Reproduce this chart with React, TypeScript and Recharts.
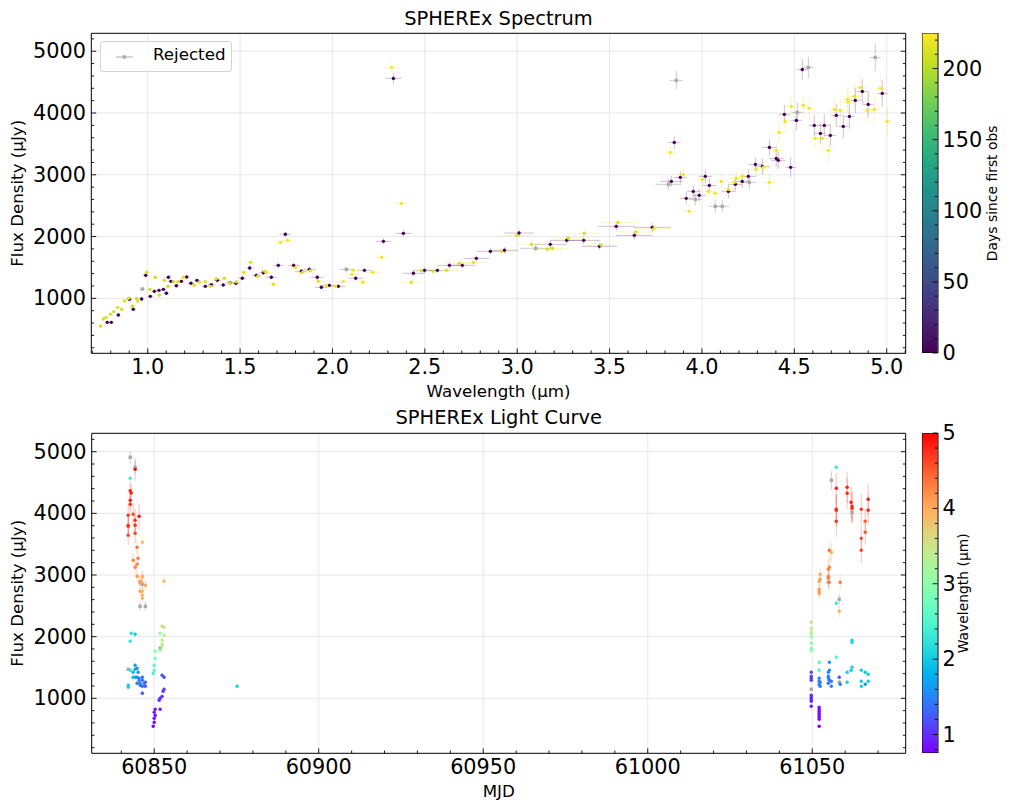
import React from 'react';
import { ComposedChart, Scatter, Bar, XAxis, YAxis, CartesianGrid, ErrorBar, Legend } from 'recharts';

const FONT = 'DejaVu Sans, Verdana, sans-serif';

// ---------- Spectrum data: [wavelength µm, flux µJy, x half-width µm, flux error µJy] ----------
const specEpoch1Days = 0;
const specEpoch1 = [
  [0.781, 611, 0.012, 25], [0.803, 611, 0.012, 25], [0.841, 730, 0.012, 25], [0.901, 984, 0.013, 30],
  [0.922, 822, 0.013, 30], [0.967, 989, 0.013, 30], [0.989, 1372, 0.014, 40], [1.014, 1032, 0.014, 30],
  [1.036, 1113, 0.015, 30], [1.061, 1129, 0.015, 30], [1.085, 1145, 0.016, 30], [1.101, 1081, 0.016, 30],
  [1.112, 1340, 0.016, 35], [1.126, 1275, 0.016, 30], [1.155, 1204, 0.017, 30], [1.182, 1275, 0.017, 30],
  [1.211, 1345, 0.018, 30], [1.234, 1243, 0.018, 30], [1.267, 1291, 0.018, 30], [1.312, 1194, 0.019, 30],
  [1.344, 1221, 0.019, 30], [1.377, 1291, 0.02, 30], [1.409, 1215, 0.02, 30], [1.445, 1253, 0.021, 30],
  [1.478, 1243, 0.021, 30], [1.512, 1324, 0.022, 35], [1.552, 1490, 0.022, 40], [1.588, 1372, 0.023, 35],
  [1.626, 1414, 0.024, 35], [1.669, 1340, 0.03, 35], [1.707, 1534, 0.03, 40], [1.745, 2036, 0.032, 45],
  [1.79, 1534, 0.032, 40], [1.832, 1437, 0.033, 40], [1.875, 1469, 0.034, 40], [1.918, 1340, 0.035, 40],
  [1.94, 1178, 0.035, 35], [1.983, 1210, 0.036, 35], [2.032, 1194, 0.037, 35], [2.126, 1324, 0.04, 40],
  [2.173, 1453, 0.04, 40], [2.276, 1922, 0.042, 50], [2.33, 4560, 0.043, 90], [2.384, 2052, 0.044, 50],
  [2.438, 1405, 0.06, 45], [2.498, 1453, 0.06, 45], [2.568, 1453, 0.065, 45], [2.633, 1534, 0.065, 50],
  [2.703, 1534, 0.07, 50], [2.779, 1647, 0.07, 50], [2.855, 1760, 0.075, 50], [2.931, 1777, 0.075, 55],
  [3.01, 2057, 0.08, 60], [3.179, 1874, 0.085, 60], [3.268, 1938, 0.09, 60], [3.36, 1938, 0.09, 60],
  [3.445, 1841, 0.095, 60], [3.536, 2165, 0.1, 70], [3.634, 2019, 0.1, 70], [3.731, 2149, 0.1, 70],
  [3.834, 2893, 0.06, 90], [3.85, 3524, 0.035, 110], [3.883, 2958, 0.035, 100], [3.915, 2618, 0.035, 100],
  [3.953, 2731, 0.035, 100], [3.985, 2667, 0.036, 100], [4.018, 2974, 0.036, 110], [4.04, 2828, 0.037, 110],
  [4.143, 2731, 0.037, 110], [4.181, 2845, 0.038, 110], [4.218, 2893, 0.038, 110], [4.251, 2974, 0.039, 120],
  [4.289, 3168, 0.039, 120], [4.327, 3136, 0.04, 130], [4.365, 3443, 0.04, 130], [4.402, 3265, 0.04, 140],
  [4.413, 3233, 0.04, 140], [4.446, 3977, 0.03, 150], [4.48, 3120, 0.03, 160], [4.511, 3880, 0.03, 160],
  [4.543, 4705, 0.03, 170], [4.608, 3799, 0.03, 170], [4.641, 3670, 0.03, 170], [4.662, 3799, 0.03, 180],
  [4.695, 3637, 0.03, 180], [4.727, 3961, 0.03, 190], [4.765, 3783, 0.03, 190], [4.798, 3945, 0.03, 200],
  [4.83, 4204, 0.03, 200], [4.868, 4349, 0.03, 200], [4.9, 4139, 0.03, 210], [4.976, 4317, 0.03, 220],
];

// [wavelength, flux, x half-width, flux error, days since first obs]
const specEpoch2 = [
  [0.745, 552, 0.012, 25, 210], [0.76, 665, 0.012, 25, 210], [0.774, 692, 0.012, 25, 210], [0.798, 741, 0.012, 25, 210],
  [0.816, 784, 0.012, 25, 210], [0.837, 854, 0.012, 25, 210], [0.859, 822, 0.013, 25, 210], [0.875, 956, 0.013, 30, 210],
  [0.897, 1000, 0.013, 30, 208], [0.917, 871, 0.013, 30, 208], [0.94, 994, 0.014, 30, 208], [0.946, 956, 0.014, 30, 208],
  [0.994, 1420, 0.014, 40, 208], [1.012, 1145, 0.014, 30, 208], [1.041, 1340, 0.015, 35, 208], [1.063, 1049, 0.015, 30, 208],
  [1.09, 1291, 0.016, 30, 208], [1.11, 1194, 0.016, 30, 208], [1.139, 1269, 0.017, 30, 208], [1.164, 1269, 0.017, 30, 208],
  [1.193, 1340, 0.017, 30, 212], [1.252, 1210, 0.018, 30, 212], [1.279, 1259, 0.018, 30, 212], [1.312, 1269, 0.019, 30, 212],
  [1.341, 1194, 0.019, 30, 212], [1.371, 1317, 0.02, 30, 212], [1.415, 1324, 0.02, 30, 212], [1.444, 1248, 0.021, 30, 212],
  [1.48, 1269, 0.021, 30, 212], [1.519, 1420, 0.022, 35, 212], [1.557, 1582, 0.022, 40, 212], [1.595, 1356, 0.023, 35, 212],
  [1.633, 1437, 0.024, 35, 212], [1.642, 1420, 0.024, 35, 215], [1.68, 1227, 0.03, 35, 215], [1.718, 1906, 0.031, 45, 222],
  [1.758, 1938, 0.032, 45, 222], [1.799, 1501, 0.032, 40, 215], [1.837, 1420, 0.033, 40, 215], [1.88, 1447, 0.034, 40, 215],
  [1.924, 1275, 0.035, 40, 215], [1.967, 1204, 0.036, 35, 220], [2.016, 1194, 0.037, 35, 220], [2.059, 1275, 0.038, 35, 220],
  [2.106, 1388, 0.039, 40, 220], [2.113, 1453, 0.039, 40, 220], [2.164, 1259, 0.04, 40, 220], [2.218, 1420, 0.041, 40, 220],
  [2.267, 1663, 0.042, 45, 220], [2.321, 4738, 0.043, 90, 222], [2.373, 2537, 0.044, 60, 222], [2.427, 1259, 0.06, 45, 215],
  [2.482, 1447, 0.06, 45, 210], [2.546, 1437, 0.065, 45, 210], [2.617, 1453, 0.065, 45, 210], [2.686, 1566, 0.07, 50, 210],
  [2.763, 1582, 0.07, 50, 210], [2.914, 1760, 0.075, 55, 208], [2.997, 2019, 0.08, 60, 208], [3.078, 1874, 0.08, 60, 208],
  [3.163, 1793, 0.085, 60, 208], [3.19, 1809, 0.085, 60, 208], [3.277, 1971, 0.09, 60, 208], [3.363, 2052, 0.09, 60, 208],
  [3.454, 1858, 0.095, 60, 208], [3.547, 2230, 0.1, 70, 215], [3.644, 2073, 0.1, 70, 215], [3.74, 2127, 0.1, 70, 222],
  [3.829, 3362, 0.035, 110, 222], [3.899, 3006, 0.035, 100, 222], [3.931, 2408, 0.035, 100, 222], [4.002, 2925, 0.036, 110, 222],
  [4.034, 2731, 0.036, 110, 222], [4.072, 2699, 0.037, 110, 222], [4.105, 2893, 0.037, 110, 222], [4.143, 2764, 0.037, 110, 222],
  [4.175, 2877, 0.038, 110, 222], [4.186, 2942, 0.038, 110, 222], [4.218, 2974, 0.038, 110, 222], [4.294, 3087, 0.039, 120, 222],
  [4.332, 3120, 0.04, 130, 222], [4.365, 2877, 0.04, 130, 222], [4.402, 3395, 0.04, 140, 222], [4.418, 3686, 0.04, 150, 222],
  [4.451, 3864, 0.03, 150, 222], [4.483, 4107, 0.03, 160, 222], [4.549, 4123, 0.03, 170, 222], [4.581, 4074, 0.03, 170, 222],
  [4.613, 3589, 0.03, 170, 222], [4.651, 3589, 0.03, 180, 222], [4.684, 3395, 0.03, 180, 222], [4.716, 4058, 0.03, 190, 222],
  [4.749, 4042, 0.03, 190, 222], [4.787, 4220, 0.03, 200, 222], [4.792, 4176, 0.03, 200, 222], [4.825, 4268, 0.03, 200, 222],
  [4.857, 4414, 0.03, 210, 222], [4.895, 4042, 0.03, 210, 222], [4.933, 4058, 0.03, 220, 222], [4.965, 4398, 0.03, 220, 222],
  [5.003, 3864, 0.03, 230, 222],
];

// rejected spectral points: [wavelength, flux, x half-width, flux error]
const specRejected = [
  [0.971, 1150, 0.014, 30], [2.075, 1469, 0.038, 40], [3.1, 1809, 0.085, 60], [3.818, 2845, 0.07, 90],
  [3.861, 4527, 0.035, 150], [3.964, 2602, 0.036, 100], [4.072, 2489, 0.037, 100], [4.11, 2489, 0.037, 100],
  [4.256, 2877, 0.039, 120], [4.516, 4010, 0.03, 160], [4.576, 4738, 0.03, 170], [4.938, 4899, 0.03, 220],
];

// ---------- Light curve data: [MJD, flux µJy, flux error, wavelength µm] ----------
const lcEpoch1 = [
  [60844.2, 4714, 180, 4.95], [60842.7, 4568, 60, 2.32], [60842.7, 4367, 150, 4.85], [60843.0, 4330, 150, 4.87],
  [60842.7, 4212, 150, 4.83], [60842.7, 4147, 150, 4.8], [60842.1, 3968, 160, 4.7], [60842.1, 3806, 150, 4.72],
  [60842.1, 3790, 150, 4.74], [60842.1, 3644, 160, 4.66], [60843.6, 3984, 180, 4.6], [60844.2, 3887, 180, 4.78],
  [60844.2, 3806, 160, 4.76], [60844.2, 3676, 160, 4.65], [60845.4, 3952, 200, 4.9], [60846.4, 3530, 120, 3.88],
  [60844.8, 3449, 130, 4.4], [60843.6, 3238, 120, 4.3], [60845.1, 3271, 120, 4.33], [60844.8, 3174, 110, 4.28],
  [60844.2, 3125, 110, 4.27], [60844.8, 2979, 100, 4.18], [60846.4, 2979, 90, 4.0], [60846.4, 2963, 90, 3.98],
  [60845.7, 2898, 90, 4.15], [60845.7, 2866, 90, 4.12], [60847.3, 2833, 90, 4.05], [60845.7, 2736, 80, 4.08],
  [60846.4, 2736, 80, 3.95], [60846.4, 2671, 80, 3.93], [60846.4, 2622, 80, 3.92], [60853.0, 2898, 60, 3.9],
  [60843.0, 2054, 40, 2.2], [60844.2, 2038, 40, 2.0], [60842.7, 1925, 40, 2.28], [60852.4, 2168, 40, 3.55],
  [60853.0, 2152, 40, 3.6], [60851.8, 2054, 40, 3.0], [60853.0, 2022, 40, 3.45], [60852.4, 1941, 40, 3.3],
  [60852.4, 1876, 40, 3.4], [60852.4, 1843, 40, 3.35], [60851.8, 1779, 40, 3.1], [60850.3, 1762, 40, 2.9],
  [60850.3, 1649, 40, 2.8], [60850.0, 1535, 40, 2.6], [60850.0, 1454, 40, 2.55], [60849.7, 1406, 40, 2.45],
  [60842.7, 1454, 30, 2.2], [60844.2, 1535, 30, 1.65], [60843.6, 1422, 30, 1.85], [60844.2, 1470, 30, 1.7],
  [60844.8, 1487, 30, 1.6], [60845.1, 1422, 30, 1.55], [60843.6, 1341, 30, 1.9], [60844.2, 1341, 30, 1.8],
  [60844.8, 1341, 30, 1.5], [60845.4, 1325, 30, 1.45], [60844.8, 1243, 30, 1.4], [60845.7, 1243, 30, 1.35],
  [60846.4, 1341, 30, 1.42], [60846.4, 1292, 30, 1.38], [60847.0, 1243, 30, 1.3], [60847.3, 1260, 30, 1.32],
  [60846.0, 1211, 30, 1.28], [60847.3, 1195, 30, 1.25], [60846.4, 1195, 30, 1.35], [60845.7, 1211, 30, 1.5],
  [60845.4, 1292, 30, 1.48], [60846.4, 1081, 30, 1.25], [60842.1, 1211, 30, 2.0], [60842.1, 1178, 30, 2.05],
  [60852.4, 1373, 30, 1.2], [60853.0, 1341, 30, 1.18], [60852.7, 1114, 30, 1.05], [60853.0, 1146, 30, 1.08],
  [60852.4, 1032, 30, 1.0], [60851.8, 1000, 30, 0.98], [60851.5, 968, 30, 0.96], [60851.8, 822, 30, 0.92],
  [60850.3, 822, 25, 0.86], [60850.0, 773, 25, 0.83], [60850.3, 724, 25, 0.81], [60850.0, 676, 25, 0.8],
  [60850.0, 611, 25, 0.78], [60849.7, 546, 25, 0.76], [60875.2, 1195, 30, 2.05],
];

const lcEpoch2 = [
  [61057.3, 4747, 60, 2.32], [61057.3, 4406, 250, 4.86], [61057.3, 4066, 250, 4.75], [61057.3, 4050, 250, 4.78],
  [61057.3, 3871, 250, 4.7], [61060.6, 4422, 250, 4.85], [61060.6, 4325, 250, 4.82], [61061.8, 4179, 250, 4.8],
  [61062.1, 4114, 250, 4.78], [61062.1, 4082, 250, 4.76], [61064.9, 4066, 250, 4.72], [61067.0, 4228, 250, 4.9],
  [61067.0, 4050, 250, 4.8], [61066.1, 3871, 200, 4.5], [61066.1, 3693, 200, 4.55], [61064.9, 3595, 200, 4.62],
  [61064.9, 3401, 200, 4.65], [61055.2, 3401, 150, 4.4], [61055.8, 3368, 150, 4.0], [61055.2, 3125, 150, 4.3],
  [61054.9, 3093, 150, 4.32], [61054.9, 2979, 120, 4.28], [61054.9, 2946, 120, 4.3], [61055.2, 2882, 120, 4.25],
  [61058.5, 2882, 120, 4.35], [61052.4, 3011, 100, 4.0], [61052.4, 2930, 100, 4.05], [61052.1, 2898, 100, 4.1],
  [61052.1, 2768, 90, 4.1], [61052.1, 2736, 90, 4.08], [61052.1, 2703, 90, 4.12], [61057.3, 2541, 40, 2.3],
  [61058.2, 2411, 100, 3.95], [61049.7, 2233, 40, 3.5], [61049.7, 2135, 40, 3.45], [61049.7, 2071, 40, 3.35],
  [61049.7, 2038, 40, 3.3], [61049.7, 1989, 40, 3.1], [61049.7, 1892, 40, 3.0], [61049.7, 1811, 40, 2.95],
  [61049.7, 1779, 40, 2.9], [61062.1, 1941, 40, 2.1], [61062.1, 1908, 40, 2.08], [61057.3, 1665, 40, 2.5],
  [61052.1, 1584, 40, 2.5], [61052.1, 1454, 40, 2.45], [61055.2, 1584, 40, 1.6], [61055.2, 1454, 30, 1.55],
  [61054.9, 1422, 30, 1.5], [61060.6, 1422, 30, 2.05], [61061.8, 1454, 30, 2.0], [61062.1, 1503, 30, 2.1],
  [61064.9, 1454, 30, 2.0], [61066.1, 1422, 30, 1.95], [61067.0, 1389, 30, 2.05], [61060.6, 1260, 30, 2.05],
  [61064.9, 1276, 30, 2.0], [61064.9, 1195, 30, 1.98], [61066.1, 1227, 30, 1.6], [61067.0, 1276, 30, 2.0],
  [61054.9, 1357, 30, 1.5], [61054.9, 1325, 30, 1.45], [61055.2, 1292, 30, 1.42], [61054.9, 1243, 30, 1.4],
  [61055.8, 1276, 30, 1.4], [61055.8, 1195, 30, 1.45], [61058.2, 1341, 30, 1.2], [61058.5, 1227, 30, 1.45],
  [61052.1, 1325, 30, 1.45], [61052.1, 1276, 30, 1.5], [61052.4, 1260, 30, 1.42], [61052.1, 1227, 30, 1.48],
  [61052.4, 1195, 30, 1.45], [61049.7, 1422, 30, 1.15], [61049.7, 1357, 30, 1.12], [61049.7, 1325, 30, 1.1],
  [61049.7, 1292, 30, 1.08], [61049.7, 1049, 30, 0.98], [61049.7, 1016, 30, 0.97], [61049.7, 984, 30, 0.95],
  [61049.7, 951, 30, 0.93], [61049.7, 870, 30, 0.9], [61052.1, 854, 25, 0.88], [61052.1, 822, 25, 0.85],
  [61052.1, 789, 25, 0.83], [61052.1, 757, 25, 0.81], [61052.1, 724, 25, 0.8], [61052.1, 692, 25, 0.79],
  [61052.1, 659, 25, 0.78], [61052.1, 546, 25, 0.76],
];

// rejected light-curve points: [MJD, flux, error]
const lcRejected = [
  [60842.7, 4909, 100], [60844.2, 4747, 100], [60846.4, 2849, 80], [60845.7, 2492, 70], [60847.3, 2492, 70],
  [60851.8, 1811, 40], [60842.1, 1470, 30], [61055.8, 4536, 150], [61062.1, 4017, 150], [61054.9, 2882, 100],
  [61058.2, 2606, 80], [61058.2, 1260, 30], [61049.7, 1146, 30],
];

// ---------- axes ----------
const specXMajor = [1.0, 1.5, 2.0, 2.5, 3.0, 3.5, 4.0, 4.5, 5.0];
const specXLabels = ['1.0', '1.5', '2.0', '2.5', '3.0', '3.5', '4.0', '4.5', '5.0'];
const fluxMajor = [1000, 2000, 3000, 4000, 5000];
const fluxLabels = ['1000', '2000', '3000', '4000', '5000'];
const mjdMajor = [60850, 60900, 60950, 61000, 61050];
const mjdLabels = ['60850', '60900', '60950', '61000', '61050'];
const daysMajor = [0, 50, 100, 150, 200];
const daysLabels = ['0', '50', '100', '150', '200'];
const waveMajor = [1, 2, 3, 4, 5];
const waveLabels = ['1', '2', '3', '4', '5'];

const SPEC_X_DOMAIN: [number, number] = [0.6947, 5.1028];
const SPEC_Y_DOMAIN: [number, number] = [110, 5290];
const LC_X_DOMAIN: [number, number] = [60831.0, 61078.4];
const LC_Y_DOMAIN: [number, number] = [108, 5298];
const DAYS_DOMAIN: [number, number] = [0, 225];
const WAVE_DOMAIN: [number, number] = [0.755, 5.0];

function steps(a: number, b: number, s: number) {
  const out: number[] = [];
  const n = Math.round((b - a) / s);
  for (let i = 0; i <= n; i++) out.push(Math.round((a + i * s) * 1e6) / 1e6);
  return out;
}
function merge(major: number[], minor: number[]) {
  const m = new Map<string, number>();
  [...major, ...minor].forEach((v) => m.set(v.toFixed(6), v));
  return [...m.values()].sort((p, q) => p - q);
}
const specXTicks = merge(specXMajor, steps(0.7, 5.1, 0.1));
const fluxTicks = merge(fluxMajor, steps(200, 5200, 200));
const mjdTicks = merge(mjdMajor, steps(60840, 61070, 10));
const daysTicks = merge(daysMajor, steps(0, 220, 10));
const waveTicks = merge(waveMajor, steps(0.8, 5.0, 0.2));

// ---------- colormaps ----------
const VIRIDIS = ['#440154', '#482475', '#414487', '#355f8d', '#2a788e', '#21918c', '#22a884', '#44bf70', '#7ad151', '#bddf26', '#fde725'];
function hexToRgb(h: string) {
  return [parseInt(h.slice(1, 3), 16), parseInt(h.slice(3, 5), 16), parseInt(h.slice(5, 7), 16)];
}
function viridis(t: number) {
  const c = Math.max(0, Math.min(1, t)) * (VIRIDIS.length - 1);
  const i = Math.min(VIRIDIS.length - 2, Math.floor(c));
  const f = c - i;
  const a = hexToRgb(VIRIDIS[i]);
  const b = hexToRgb(VIRIDIS[i + 1]);
  const m = a.map((v, k) => Math.round(v + (b[k] - v) * f));
  return `rgb(${m[0]},${m[1]},${m[2]})`;
}
function rainbow(t: number) {
  const x = Math.max(0, Math.min(1, t));
  const cl = (v: number) => Math.round(255 * Math.max(0, Math.min(1, v)));
  return `rgb(${cl(Math.abs(2 * x - 0.5))},${cl(Math.sin(Math.PI * x))},${cl(Math.cos((Math.PI * x) / 2))})`;
}
const dayColor = (d: number) => viridis((d - DAYS_DOMAIN[0]) / (DAYS_DOMAIN[1] - DAYS_DOMAIN[0]));
const waveColor = (w: number) => rainbow((w - WAVE_DOMAIN[0]) / (WAVE_DOMAIN[1] - WAVE_DOMAIN[0]));

// ---------- series built from the arrays ----------
const spec1 = specEpoch1.map((r) => ({ x: r[0], y: r[1], xe: r[2], ye: r[3], c: dayColor(specEpoch1Days) }));
const spec2 = specEpoch2.map((r) => ({ x: r[0], y: r[1], xe: r[2], ye: r[3], c: dayColor(r[4]) }));
const specRej = specRejected.map((r) => ({ x: r[0], y: r[1], xe: r[2], ye: r[3] }));

const LC_BINS = [0.75, 1.3, 2.2, 3.2, 3.9, 4.45, 5.01];
const lcAll = [...lcEpoch1, ...lcEpoch2].map((r) => ({ x: r[0], y: r[1], ye: r[2], w: r[3], c: waveColor(r[3]) }));
const lcGroups = LC_BINS.slice(0, -1).map((lo, i) => ({
  color: waveColor((lo + LC_BINS[i + 1]) / 2),
  data: lcAll.filter((p) => p.w >= lo && p.w < LC_BINS[i + 1]),
}));
const lcRej = lcRejected.map((r) => ({ x: r[0], y: r[1], ye: r[2] }));

// ---------- shared pieces ----------
const AXIS = { stroke: '#000', strokeWidth: 1 };
const TICK_FS = 20.8;

type Side = 'bottom' | 'top' | 'left' | 'right' | 'cbar';
function tickRenderer(side: Side, majors: number[], labels: string[] | null) {
  return (props: any) => {
    const { x, y, payload } = props;
    const v = Number(payload.value);
    const idx = majors.findIndex((m) => Math.abs(m - v) < 1e-6);
    const major = idx >= 0;
    const len = major ? 4.9 : 2.8;
    let x2 = x;
    let y2 = y;
    if (side === 'bottom') y2 = y - len;
    if (side === 'top') y2 = y + len;
    if (side === 'left') x2 = x + len;
    if (side === 'right' || side === 'cbar') x2 = x - len;
    const label = major && labels ? labels[idx] : null;
    const tp = { fontFamily: FONT, fontSize: TICK_FS, fill: '#000' } as any;
    return (
      <g>
        <line x1={x} y1={y} x2={x2} y2={y2} stroke="#000" strokeWidth={0.9} />
        {label && side === 'bottom' && (
          <text x={x} y={y + 20.5} textAnchor="middle" {...tp}>{label}</text>
        )}
        {label && side === 'left' && (
          <text x={x - 5.3} y={y} textAnchor="end" dominantBaseline="central" {...tp}>{label}</text>
        )}
        {label && side === 'cbar' && (
          <text x={x + 5} y={y} textAnchor="start" dominantBaseline="central" {...tp}>{label}</text>
        )}
      </g>
    );
  };
}

const dot = (r: number) => (props: any) => {
  const { cx, cy, payload } = props;
  if (cx == null || cy == null) return <g />;
  return <circle cx={cx} cy={cy} r={r} fill={payload.c} />;
};
const square = (props: any) => {
  const { cx, cy } = props;
  if (cx == null || cy == null) return <g />;
  return <rect x={cx - 1.7} y={cy - 1.7} width={3.4} height={3.4} fill="#aaaaaa" />;
};

const RejectedLegend = () => (
  <div
    style={{
      boxSizing: 'border-box',
      width: 132,
      height: 31,
      border: '1px solid #d3d3d3',
      borderRadius: 3,
      background: 'rgba(255,255,255,0.85)',
      position: 'relative',
    }}
  >
    <svg width={40} height={29} style={{ position: 'absolute', left: 0, top: 0 }}>
      <line x1={15} x2={31.7} y1={15} y2={15} stroke="#aaaaaa" strokeWidth={1} />
      <rect x={21.7} y={13.3} width={3.4} height={3.4} fill="#aaaaaa" />
    </svg>
    <span
      style={{
        position: 'absolute',
        left: 52,
        top: 3,
        fontFamily: FONT,
        fontSize: 16.67,
        lineHeight: '20px',
        color: '#000',
      }}
    >
      Rejected
    </span>
  </div>
);

function Colorbar(props: {
  id: string;
  domain: [number, number];
  ticks: number[];
  majors: number[];
  labels: string[];
  stops: { off: number; color: string }[];
}) {
  const { id, domain, ticks, majors, labels, stops } = props;
  const barData = [{ name: id, range: [domain[0], domain[1]] }];
  return (
    <ComposedChart
      width={80}
      height={360}
      data={barData}
      barCategoryGap={0}
      barGap={0}
      margin={{ top: 20, right: 4.4, bottom: 20, left: 0 }}
    >
      <defs>
        <linearGradient id={id} x1="0" y1="1" x2="0" y2="0">
          {stops.map((s, i) => (
            <stop key={i} offset={`${s.off * 100}%`} stopColor={s.color} />
          ))}
        </linearGradient>
      </defs>
      <CartesianGrid xAxisId="c" yAxisId="c" horizontal={false} vertical={false} fill={`url(#${id})`} fillOpacity={1} />
      <XAxis xAxisId="c" dataKey="name" type="category" hide />
      <YAxis
        yAxisId="c"
        orientation="right"
        type="number"
        domain={domain}
        allowDataOverflow
        ticks={ticks}
        interval={0}
        width={60}
        tickSize={0}
        tickMargin={0}
        tickLine={false}
        axisLine={false}
        tick={tickRenderer('cbar', majors, labels)}
      />
      <Bar
        xAxisId="c"
        yAxisId="c"
        dataKey="range"
        fill="none"
        stroke="#000"
        strokeWidth={1}
        isAnimationActive={false}
      />
    </ComposedChart>
  );
}

const viridisStops = steps(0, 1, 0.05).map((t) => ({ off: t, color: viridis(t) }));
const rainbowStops = steps(0, 1, 0.05).map((t) => ({ off: t, color: rainbow(t) }));

const GRID = '#e2e2e2';

export default function App() {
  return (
    <div style={{ position: 'absolute', left: 0, top: 0, width: 1011, height: 811, background: '#fff' }}>
      {/* ---------------- Spectrum ---------------- */}
      <div style={{ position: 'absolute', left: 0, top: 0 }}>
        <ComposedChart width={1011} height={400} margin={{ top: 28.3, right: 100.3, bottom: 6.7, left: 31.3 }}>
          <CartesianGrid
            xAxisId="x"
            yAxisId="y"
            verticalValues={specXMajor}
            horizontalValues={fluxMajor}
            stroke={GRID}
            strokeWidth={0.8}
          />
          <XAxis
            xAxisId="x"
            dataKey="x"
            type="number"
            domain={SPEC_X_DOMAIN}
            allowDataOverflow
            ticks={specXTicks}
            interval={0}
            height={40}
            tickSize={0}
            tickMargin={0}
            tickLine={false}
            axisLine={AXIS}
            tick={tickRenderer('bottom', specXMajor, specXLabels)}
          />
          <XAxis
            xAxisId="top"
            orientation="top"
            type="number"
            domain={SPEC_X_DOMAIN}
            allowDataOverflow
            ticks={specXTicks}
            interval={0}
            height={5}
            tickSize={0}
            tickMargin={0}
            tickLine={false}
            axisLine={AXIS}
            tick={tickRenderer('top', specXMajor, null)}
          />
          <YAxis
            yAxisId="y"
            dataKey="y"
            type="number"
            domain={SPEC_Y_DOMAIN}
            allowDataOverflow
            ticks={fluxTicks}
            interval={0}
            width={60}
            tickSize={0}
            tickMargin={0}
            tickLine={false}
            axisLine={AXIS}
            tick={tickRenderer('left', fluxMajor, fluxLabels)}
          />
          <YAxis
            yAxisId="right"
            orientation="right"
            type="number"
            domain={SPEC_Y_DOMAIN}
            allowDataOverflow
            ticks={fluxTicks}
            interval={0}
            width={5}
            tickSize={0}
            tickMargin={0}
            tickLine={false}
            axisLine={AXIS}
            tick={tickRenderer('right', fluxMajor, null)}
          />
          <Scatter xAxisId="x" yAxisId="y" data={specRej} isAnimationActive={false} shape={square} name="Rejected">
            <ErrorBar dataKey="xe" direction="x" width={0} stroke="#999999" strokeOpacity={0.5} strokeWidth={1} />
            <ErrorBar dataKey="ye" direction="y" width={0} stroke="#999999" strokeOpacity={0.5} strokeWidth={1} />
          </Scatter>
          <Scatter xAxisId="x" yAxisId="y" data={spec1} isAnimationActive={false} shape={dot(1.7)}>
            <ErrorBar dataKey="xe" direction="x" width={0} stroke="#440154" strokeOpacity={0.25} strokeWidth={1} />
            <ErrorBar dataKey="ye" direction="y" width={0} stroke="#440154" strokeOpacity={0.25} strokeWidth={1} />
          </Scatter>
          <Scatter xAxisId="x" yAxisId="y" data={spec2} isAnimationActive={false} shape={dot(1.7)}>
            <ErrorBar dataKey="xe" direction="x" width={0} stroke="#e8e420" strokeOpacity={0.3} strokeWidth={1} />
            <ErrorBar dataKey="ye" direction="y" width={0} stroke="#e8e420" strokeOpacity={0.3} strokeWidth={1} />
          </Scatter>
          <Legend
            layout="vertical"
            align="center"
            verticalAlign="middle"
            wrapperStyle={{ left: 100, top: 41.3, width: 132, height: 31 }}
            content={() => <RejectedLegend />}
          />
        </ComposedChart>
      </div>

      {/* ---------------- Light curve ---------------- */}
      <div style={{ position: 'absolute', left: 0, top: 400 }}>
        <ComposedChart width={1011} height={411} margin={{ top: 28.3, right: 100.3, bottom: 17.7, left: 31.7 }}>
          <CartesianGrid
            xAxisId="x"
            yAxisId="y"
            verticalValues={mjdMajor}
            horizontalValues={fluxMajor}
            stroke={GRID}
            strokeWidth={0.8}
          />
          <XAxis
            xAxisId="x"
            dataKey="x"
            type="number"
            domain={LC_X_DOMAIN}
            allowDataOverflow
            ticks={mjdTicks}
            interval={0}
            height={40}
            tickSize={0}
            tickMargin={0}
            tickLine={false}
            axisLine={AXIS}
            tick={tickRenderer('bottom', mjdMajor, mjdLabels)}
          />
          <XAxis
            xAxisId="top"
            orientation="top"
            type="number"
            domain={LC_X_DOMAIN}
            allowDataOverflow
            ticks={mjdTicks}
            interval={0}
            height={5}
            tickSize={0}
            tickMargin={0}
            tickLine={false}
            axisLine={AXIS}
            tick={tickRenderer('top', mjdMajor, null)}
          />
          <YAxis
            yAxisId="y"
            dataKey="y"
            type="number"
            domain={LC_Y_DOMAIN}
            allowDataOverflow
            ticks={fluxTicks}
            interval={0}
            width={60}
            tickSize={0}
            tickMargin={0}
            tickLine={false}
            axisLine={AXIS}
            tick={tickRenderer('left', fluxMajor, fluxLabels)}
          />
          <YAxis
            yAxisId="right"
            orientation="right"
            type="number"
            domain={LC_Y_DOMAIN}
            allowDataOverflow
            ticks={fluxTicks}
            interval={0}
            width={5}
            tickSize={0}
            tickMargin={0}
            tickLine={false}
            axisLine={AXIS}
            tick={tickRenderer('right', fluxMajor, null)}
          />
          <Scatter xAxisId="x" yAxisId="y" data={lcRej} isAnimationActive={false} shape={square}>
            <ErrorBar dataKey="ye" direction="y" width={0} stroke="#999999" strokeOpacity={0.5} strokeWidth={1} />
          </Scatter>
          {lcGroups.map((g, i) => (
            <Scatter key={i} xAxisId="x" yAxisId="y" data={g.data} isAnimationActive={false} shape={dot(1.7)}>
              <ErrorBar dataKey="ye" direction="y" width={0} stroke={g.color} strokeOpacity={0.3} strokeWidth={1} />
            </Scatter>
          ))}
        </ComposedChart>
      </div>

      {/* ---------------- Colorbars ---------------- */}
      <div style={{ position: 'absolute', left: 921.7, top: 13.3 }}>
        <Colorbar id="cbDays" domain={DAYS_DOMAIN} ticks={daysTicks} majors={daysMajor} labels={daysLabels} stops={viridisStops} />
      </div>
      <div style={{ position: 'absolute', left: 921.7, top: 413.3 }}>
        <Colorbar id="cbWave" domain={WAVE_DOMAIN} ticks={waveTicks} majors={waveMajor} labels={waveLabels} stops={rainbowStops} />
      </div>

      {/* ---------------- Titles and labels ---------------- */}
      <svg width={1011} height={811} style={{ position: 'absolute', left: 0, top: 0, pointerEvents: 'none' }}>
        <g fontFamily={FONT} fill="#000">
          <text x={498.5} y={25} textAnchor="middle" fontSize={19.44}>SPHEREx Spectrum</text>
          <text x={498.5} y={397} textAnchor="middle" fontSize={16.67}>Wavelength (μm)</text>
          <text x={23} y={193.3} textAnchor="middle" fontSize={16.67} transform="rotate(-90 23 193.3)">Flux Density (μJy)</text>
          <text x={498.7} y={424.3} textAnchor="middle" fontSize={19.44}>SPHEREx Light Curve</text>
          <text x={498.7} y={797} textAnchor="middle" fontSize={16.67}>MJD</text>
          <text x={23} y={593.3} textAnchor="middle" fontSize={16.67} transform="rotate(-90 23 593.3)">Flux Density (μJy)</text>
          <text x={997} y={193.3} textAnchor="middle" fontSize={13.9} transform="rotate(-90 997 193.3)">Days since first obs</text>
          <text x={968} y={593.3} textAnchor="middle" fontSize={13.9} transform="rotate(-90 968 593.3)">Wavelength (μm)</text>
        </g>
      </svg>
    </div>
  );
}
